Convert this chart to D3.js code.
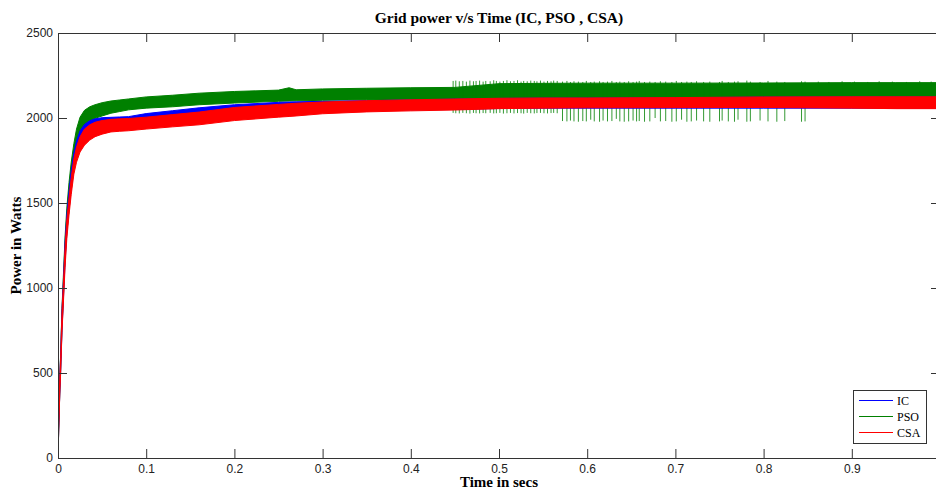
<!DOCTYPE html>
<html>
<head>
<meta charset="utf-8">
<script src="https://cdn.jsdelivr.net/npm/d3@7"></script>
<style>
  body { margin: 0; background: #fff; }
  .tick text { font-family: "Liberation Sans", Arial, sans-serif; font-size: 12px; fill: #222; }
  .tick line { stroke: #333; }
</style>
</head>
<body>
<div id="chart"></div>
<script>
var width = 936;
var height = 490;

// tick labels
var x_ticks = [0, 0.1, 0.2, 0.3, 0.4, 0.5, 0.6, 0.7, 0.8, 0.9, 1];
var x_labels = ["0", "0.1", "0.2", "0.3", "0.4", "0.5", "0.6", "0.7", "0.8", "0.9", ""];
var y_ticks = [0, 500, 1000, 1500, 2000, 2500];

var series_names = ["IC", "PSO", "CSA"];

// envelope sample times (secs)
var time_pts = [0, 0.001, 0.002, 0.003, 0.0045, 0.006, 0.008, 0.01, 0.0125, 0.015, 0.018, 0.021, 0.025, 0.03, 0.036, 0.042,
    0.05, 0.06, 0.07, 0.08, 0.1, 0.13, 0.16, 0.2, 0.25, 0.262, 0.27, 0.3, 0.35, 0.4, 0.45, 0.5, 0.55, 0.6, 0.7, 0.8, 0.9, 0.95, 1.0];

// PSO band (lower / upper edge, W)
var pso_lo = [0, 210, 380, 520, 770, 940, 1180, 1360, 1510, 1640, 1760, 1840, 1905, 1955, 1982, 1998,
    2012, 2028, 2038, 2048, 2058, 2066, 2078, 2088, 2098, 2100, 2101, 2104, 2108, 2110, 2112, 2116, 2118, 2118, 2120, 2124, 2125, 2125, 2125];
var pso_hi = [0, 300, 480, 610, 880, 1060, 1300, 1470, 1620, 1740, 1850, 1935, 2005, 2045, 2066, 2078,
    2090, 2100, 2106, 2112, 2124, 2134, 2146, 2156, 2164, 2178, 2166, 2171, 2175, 2178, 2180, 2202, 2204, 2205, 2205, 2206, 2208, 2208, 2208];

// IC band
var ic_lo = [0, 205, 375, 510, 750, 920, 1150, 1320, 1460, 1580, 1700, 1780, 1840, 1880, 1900, 1915,
    1930, 1940, 1945, 1950, 1960, 1975, 1990, 2010, 2030, 2032, 2034, 2040, 2045, 2048, 2050, 2056, 2058, 2058, 2058, 2058, 2058, 2058, 2058];
var ic_hi = [0, 300, 475, 600, 870, 1030, 1270, 1430, 1570, 1690, 1795, 1865, 1925, 1962, 1984, 1995,
    2002, 2004, 2006, 2008, 2026, 2043, 2060, 2078, 2092, 2094, 2095, 2098, 2102, 2106, 2111, 2115, 2117, 2117, 2119, 2123, 2124, 2124, 2124];

// CSA band
var csa_lo = [0, 200, 370, 500, 740, 900, 1120, 1290, 1430, 1550, 1670, 1740, 1800, 1840, 1870, 1890,
    1905, 1918, 1922, 1925, 1935, 1948, 1960, 1985, 2005, 2009, 2012, 2025, 2036, 2042, 2047, 2055, 2058, 2060, 2061, 2062, 2058, 2055, 2055];
var csa_hi = [0, 300, 470, 590, 860, 1010, 1240, 1400, 1530, 1650, 1760, 1830, 1890, 1935, 1960, 1975,
    1985, 1992, 1995, 1997, 2005, 2020, 2035, 2062, 2080, 2084, 2087, 2094, 2102, 2107, 2112, 2116, 2118, 2118, 2120, 2124, 2125, 2125, 2125];

// PSO spikes after 0.45 s: time, bottom, top
var pso_spike_t = [0.448, 0.451, 0.455, 0.459, 0.463, 0.467, 0.471, 0.474, 0.478, 0.482, 0.485, 0.490, 0.494, 0.497, 0.501, 0.505,
    0.509, 0.513, 0.517, 0.521, 0.525, 0.528, 0.532, 0.536, 0.540, 0.543, 0.547, 0.551, 0.555, 0.559, 0.562, 0.566,
    0.572, 0.577, 0.581, 0.585, 0.590, 0.595, 0.599, 0.604, 0.608, 0.614, 0.618, 0.623, 0.628, 0.633, 0.637, 0.642,
    0.647, 0.652, 0.656, 0.659, 0.665, 0.671, 0.677, 0.683, 0.689, 0.696, 0.701, 0.707, 0.713, 0.718, 0.724, 0.732,
    0.739, 0.750, 0.753, 0.760, 0.767, 0.771, 0.781, 0.785, 0.796, 0.805, 0.815, 0.824, 0.843, 0.847,
    0.862, 0.874, 0.889, 0.903, 0.918, 0.931, 0.946, 0.962, 0.977, 0.99];
var pso_spike_lo = [2030, 2028, 2027, 2030, 2028, 2026, 2030, 2028, 2027, 2029, 2028, 2030, 2027, 2028, 2030, 2026,
    2028, 2030, 2027, 2029, 2028, 2026, 2030, 2028, 2027, 2029, 2030, 2028, 2027, 2029, 2030, 2028,
    1982, 1980, 1985, 1980, 1978, 1982, 1980, 1990, 1980, 1978, 1985, 1980, 1982, 1995, 1980, 1978,
    1980, 1985, 1980, 1982, 1978, 1980, 2000, 1980, 1982, 1978, 1980, 1990, 1978, 1980, 1985, 1980,
    1978, 1980, 1985, 1980, 1978, 1990, 1978, 1980, 1985, 1980, 1978, 1982, 1978, 1980,
    2125, 2125, 2125, 2125, 2125, 2125, 2125, 2125, 2125, 2125];
var pso_spike_hi = [2218, 2220, 2216, 2218, 2214, 2220, 2216, 2218, 2220, 2214, 2218, 2216, 2222, 2218, 2214, 2218,
    2222, 2216, 2218, 2222, 2214, 2218, 2216, 2220, 2218, 2216, 2220, 2214, 2218, 2216, 2220, 2218,
    2214, 2218, 2212, 2216, 2214, 2212, 2218, 2212, 2214, 2216, 2212, 2214, 2218, 2212, 2214, 2212,
    2216, 2212, 2214, 2218, 2212, 2214, 2212, 2216, 2214, 2212, 2218, 2212, 2214, 2212, 2216, 2212,
    2214, 2212, 2218, 2212, 2214, 2216, 2220, 2214, 2212, 2218, 2214, 2212, 2216, 2214,
    2214, 2212, 2216, 2214, 2212, 2216, 2214, 2212, 2216, 2214];

var margin = {left: 58, top: 33, right: 940, bottom: 458};

var svg = d3.select("div#chart").append("svg")
    .attr("width", width)
    .attr("height", height);

var x = d3.scaleLinear().domain([0, 1]).range([margin.left, margin.right]);
var y = d3.scaleLinear().domain([0, 2500]).range([margin.bottom, margin.top]);

svg.append("clipPath").attr("id", "plotclip")
    .append("rect")
    .attr("x", margin.left).attr("y", margin.top)
    .attr("width", margin.right - margin.left)
    .attr("height", margin.bottom - margin.top);

var plot = svg.append("g").attr("clip-path", "url(#plotclip)");

function band(lo, hi) {
    return d3.area()
        .x(function(d, i) { return x(time_pts[i]); })
        .y0(function(d, i) { return y(lo[i]); })
        .y1(function(d, i) { return y(hi[i]); })(time_pts);
}

//PSO band and its spikes
plot.append("path")
    .attr("d", band(pso_lo, pso_hi))
    .attr("fill", "#008000").attr("stroke", "#008000").attr("stroke-width", 1);

plot.selectAll("line.spike")
    .data(pso_spike_t)
    .enter().append("line")
    .attr("class", "spike")
    .attr("x1", function(d) { return x(d); })
    .attr("x2", function(d) { return x(d); })
    .attr("y1", function(d, i) { return y(pso_spike_lo[i]); })
    .attr("y2", function(d, i) { return y(pso_spike_hi[i]); })
    .attr("stroke", "#008000")
    .attr("stroke-opacity", 0.8)
    .attr("stroke-width", 1);

//IC then CSA on top
plot.append("path")
    .attr("d", band(ic_lo, ic_hi))
    .attr("fill", "#0000ff").attr("stroke", "#0000ff").attr("stroke-width", 1);

plot.append("path")
    .attr("d", band(csa_lo, csa_hi))
    .attr("fill", "#ff0000").attr("stroke", "#ff0000").attr("stroke-width", 1);

//Axes with inward ticks on all sides
svg.append("g")
    .attr("transform", "translate(0," + margin.bottom + ")")
    .call(d3.axisBottom(x).tickValues(x_ticks).tickSizeInner(-9).tickSizeOuter(0).tickPadding(6)
        .tickFormat(function(d, i) { return x_labels[i]; }))
    .call(function(g) { g.select(".domain").remove(); });

svg.append("g")
    .attr("transform", "translate(0," + margin.top + ")")
    .call(d3.axisTop(x).tickValues(x_ticks).tickSizeInner(-9).tickSizeOuter(0).tickFormat(""))
    .call(function(g) { g.select(".domain").remove(); });

svg.append("g")
    .attr("transform", "translate(" + margin.left + ",0)")
    .call(d3.axisLeft(y).tickValues(y_ticks).tickSizeInner(-9).tickSizeOuter(0).tickPadding(5)
        .tickFormat(d3.format("d")))
    .call(function(g) { g.select(".domain").remove(); });

svg.append("g")
    .attr("transform", "translate(" + margin.right + ",0)")
    .call(d3.axisRight(y).tickValues(y_ticks).tickSizeInner(-9).tickSizeOuter(0).tickFormat(""))
    .call(function(g) { g.select(".domain").remove(); });

svg.append("rect")
    .attr("x", margin.left + 0.5).attr("y", margin.top + 0.5)
    .attr("width", margin.right - margin.left - 1)
    .attr("height", margin.bottom - margin.top)
    .attr("fill", "none").attr("stroke", "#333");

//Title and labels
var serif = "'Liberation Serif', 'Times New Roman', serif";
svg.append("text")
    .attr("x", (margin.left + margin.right) / 2).attr("y", 23)
    .attr("text-anchor", "middle")
    .style("font-family", serif)
    .style("font-weight", "bold").style("font-size", "15.5px")
    .text("Grid power v/s Time (IC, PSO , CSA)");

svg.append("text")
    .attr("x", (margin.left + margin.right) / 2).attr("y", 487)
    .attr("text-anchor", "middle")
    .style("font-family", serif)
    .style("font-weight", "bold").style("font-size", "15px")
    .text("Time in secs");

svg.append("text")
    .attr("transform", "translate(21," + (margin.top + margin.bottom) / 2 + ") rotate(-90)")
    .attr("text-anchor", "middle")
    .style("font-family", serif)
    .style("font-weight", "bold").style("font-size", "15px")
    .text("Power in Watts");

//Legend
var legend_colors = ["#0000ff", "#008000", "#ff0000"];
var legend = svg.append("g").attr("transform", "translate(853,390)");
legend.append("rect")
    .attr("x", 0.5).attr("y", 0.5).attr("width", 73).attr("height", 53)
    .attr("fill", "#fff").attr("stroke", "#333");
var items = legend.selectAll("g.item")
    .data(series_names)
    .enter().append("g")
    .attr("class", "item")
    .attr("transform", function(d, i) { return "translate(0," + (10.5 + i * 16) + ")"; });
items.append("line")
    .attr("x1", 6).attr("x2", 40)
    .attr("stroke", function(d, i) { return legend_colors[i]; });
items.append("text")
    .attr("x", 44).attr("y", 4)
    .style("font-family", serif)
    .style("font-size", "12px")
    .text(function(d) { return d; });
</script>
</body>
</html>
